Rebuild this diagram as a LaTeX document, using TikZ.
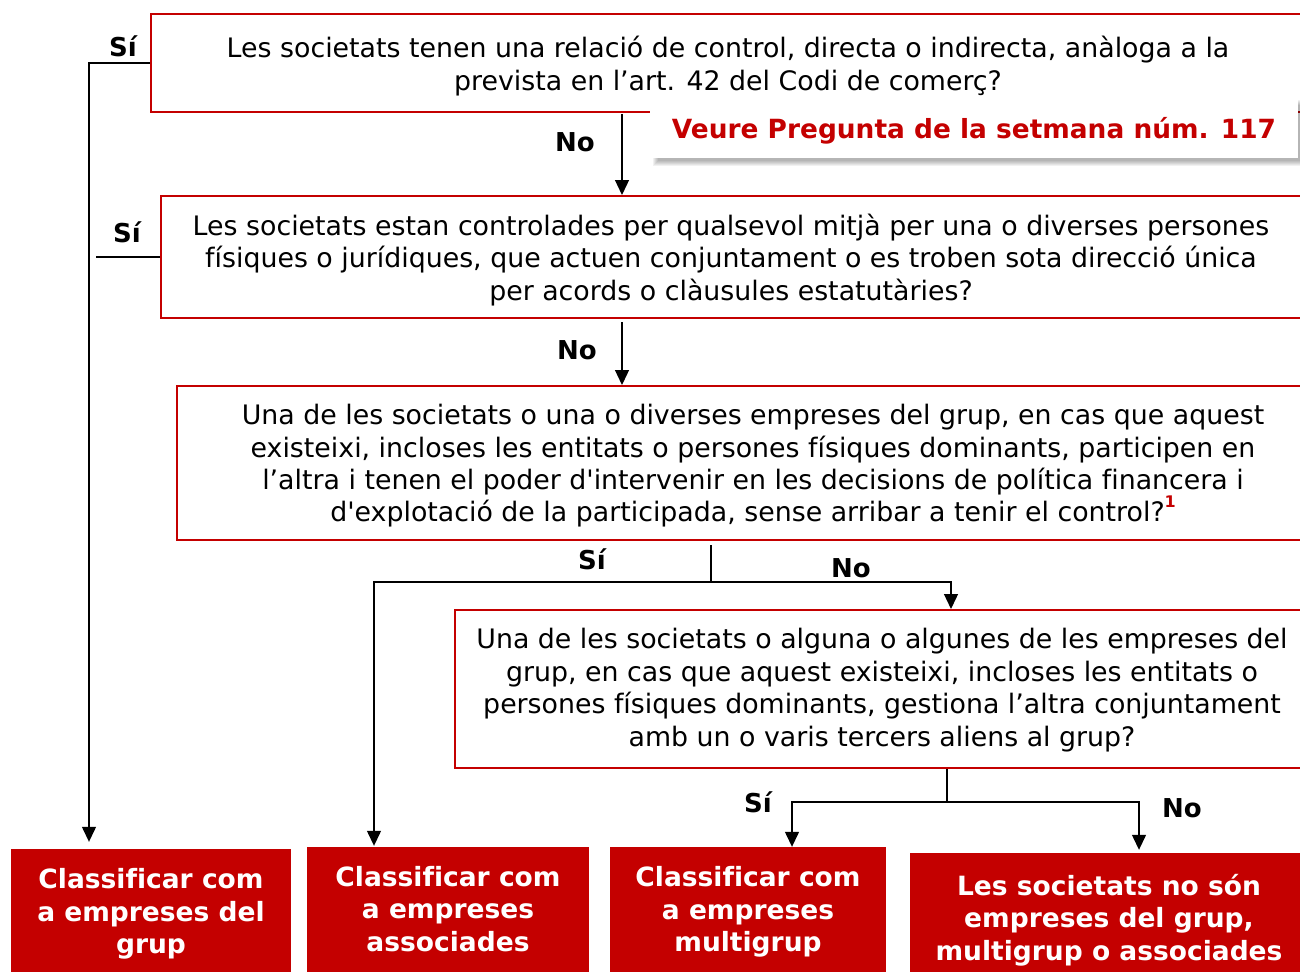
\documentclass[tikz,border=0pt]{standalone}
\usepackage{fontspec}
\setmainfont{DejaVu Sans}[Ligatures={TeXOff,NoCommon}]
\usetikzlibrary{arrows.meta}
\definecolor{myred}{RGB}{196,0,0}
\tikzset{
  qshape/.style={draw=myred, line width=2pt, fill=white, inner sep=0pt},
  qtext/.style={align=center, inner sep=0pt, font=\fontsize{26.8}{32.4}\selectfont},
  rshape/.style={fill=myred, inner sep=0pt},
  rtext/.style={text=white, align=center, inner sep=0pt,
    font=\fontsize{26.5}{32.6}\selectfont\bfseries},
  lbl/.style={anchor=base, inner sep=0pt, font=\fontsize{26}{30}\selectfont\bfseries},
  conn/.style={line width=1.3pt, draw=black},
  arr/.style={conn, -{Triangle[length=15pt,width=14pt]}},
  callout/.style={fill=white, inner sep=0pt},
  shadowlayer/.style={fill=black, opacity=0.055},
  callouttext/.style={text=myred, inner sep=0pt, font=\fontsize{26.4}{30}\selectfont\bfseries},
}
\newcommand{\fnmark}{\raisebox{0.55em}{\fontsize{16}{16}\selectfont\bfseries\color{myred}1}}
\begin{document}
\begin{tikzpicture}[x=1pt,y=-1pt]
\useasboundingbox (0,0) rectangle (1300,971);
\clip (0,0) rectangle (1300,971);

% question boxes
\node[qshape, minimum width=1154pt, minimum height=98pt] (q1) at (728,63) {};
\node[qtext] (q1t) at ([yshift=-3pt]q1.center)
  {Les societats tenen una relació de control, directa o indirecta, anàloga a la\\
   prevista en l’art. 42 del Codi de comerç?};

% callout with soft shadow
\coordinate (refc) at (974,129);
\foreach \r in {0,...,5} {
  \fill[shadowlayer] ([xshift={-320pt+4pt-\r pt}, yshift={29pt-5pt+\r pt}]refc)
     rectangle ([xshift={324pt+4pt+\r pt}, yshift={-29pt-3pt-\r pt}]refc);
}
\node[callout, minimum width=648pt, minimum height=58pt] (ref) at (refc) {};
\node[callouttext] (reft) at ([yshift=-2pt]ref.center)
  {Veure Pregunta de la setmana núm. 117};

\node[qshape, minimum width=1140pt, minimum height=122pt] (q2) at (731,257) {};
\node[qtext] (q2t) at ([yshift=-3pt]q2.center)
  {Les societats estan controlades per qualsevol mitjà per una o diverses persones\\
   físiques o jurídiques, que actuen conjuntament o es troben sota direcció única\\
   per acords o clàusules estatutàries?};
\node[qshape, minimum width=1152pt, minimum height=154pt] (q3) at (753,463) {};
\node[qtext] (q3t) at ([yshift=-3pt]q3.center)
  {Una de les societats o una o diverses empreses del grup, en cas que aquest\\
   existeixi, incloses les entitats o persones físiques dominants, participen en\\
   l’altra i tenen el poder d'intervenir en les decisions de política financera i\\
   d'explotació de la participada, sense arribar a tenir el control?\fnmark};
\node[qshape, minimum width=854pt, minimum height=158pt] (q4) at (882,689) {};
\node[qtext] (q4t) at ([yshift=-1pt]q4.center)
  {Una de les societats o alguna o algunes de les empreses del\\
   grup, en cas que aquest existeixi, incloses les entitats o\\
   persones físiques dominants, gestiona l’altra conjuntament\\
   amb un o varis tercers aliens al grup?};

% result boxes
\node[rshape, minimum width=280pt, minimum height=126pt] (b1) at (151,912) {};
\node[rtext] (b1t) at ([yshift=-2pt]b1.center) {Classificar com\\a empreses del\\grup};
\node[rshape, minimum width=282pt, minimum height=126pt] (b2) at (448,910) {};
\node[rtext] (b2t) at ([yshift=1pt]b2.center) {Classificar com\\a empreses\\associades};
\node[rshape, minimum width=276pt, minimum height=126pt] (b3) at (748,910) {};
\node[rtext] (b3t) at ([yshift=-2pt]b3.center) {Classificar com\\a empreses\\multigrup};
\node[rshape, minimum width=398pt, minimum height=130pt] (b4) at (1109,918) {};
\node[rtext] (b4t) at ([yshift=-2pt]b4.center) {Les societats no són\\empreses del grup,\\multigrup o associades};

% helper coordinates
\coordinate (xa) at (622,0);
\coordinate (x89) at (89,0);
\coordinate (x96) at (96,0);
\coordinate (j3) at (711,582);
\coordinate (x374) at (374,0);
\coordinate (x951) at (951,0);
\coordinate (j4) at (947,802);
\coordinate (x792) at (792,0);
\coordinate (x1139) at (1139,0);

% connectors
\draw[arr] (q1.west) -| ([yshift=7pt]b1.north -| x89);
\draw[arr] ([yshift=-1pt]q1.south -| xa) -- (q2.north -| xa);
\draw[conn] (q2.west) -- (q2.west -| x96);
\draw[arr] ([yshift=-3pt]q2.south -| xa) -- (q3.north -| xa);
\draw[conn] ([yshift=-4pt]q3.south -| j3) -- (j3);
\draw[arr] (j3) -| ([yshift=1pt]b2.north -| x374);
\draw[arr] (j3) -| (q4.north -| x951);
\draw[conn] (q4.south -| j4) -- (j4);
\draw[arr] (j4) -| (b3.north -| x792);
\draw[arr] (j4) -| ([yshift=3pt]b4.north -| x1139);

% labels
\node[lbl] (l1) at (123,57) {Sí};
\node[lbl] (l2) at (575,151) {No};
\node[lbl] (l3) at (127,242) {Sí};
\node[lbl] (l4) at (577,359) {No};
\node[lbl] (l5) at (592,569) {Sí};
\node[lbl] (l6) at (851,577) {No};
\node[lbl] (l7) at (758,812) {Sí};
\node[lbl] (l8) at (1182,817) {No};
\end{tikzpicture}
\end{document}
